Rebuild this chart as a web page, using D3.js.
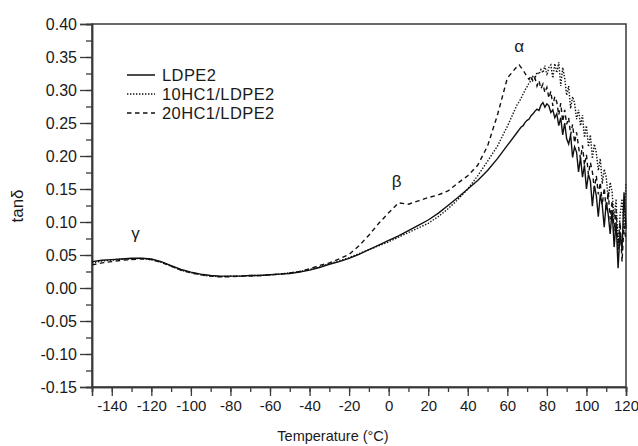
<!DOCTYPE html>
<html>
<head>
<meta charset="utf-8">
<script src="https://cdn.jsdelivr.net/npm/d3@7"></script>
<style>
    body { margin: 0; background: #fff; }
    text { font-family: "Liberation Sans", Arial, sans-serif; fill: #1a1a1a; }
</style>
</head>
<body>
<script>
// temperatures: every 5 deg up to 65, then every 1 deg where the curves get noisy
const temps = [-150, -145, -140, -135, -130, -125, -120, -115, -110, -105, -100, -95, -90, -85, -80, -75, -70, -65, -60, -55, -50, -45, -40, -35, -30, -25, -20, -15, -10, -5, 0, 5, 10, 15, 20, 25, 30, 35, 40, 45, 50, 55, 60, 65,
    66, 67, 68, 69, 70, 71, 72, 73, 74, 75, 76, 77, 78, 79, 80, 81, 82, 83, 84, 85, 86, 87, 88, 89, 90, 91, 92, 93, 94, 95, 96, 97, 98, 99, 100,
    101, 102, 103, 104, 105, 106, 107, 108, 109, 110, 111, 112, 113, 114, 115, 116, 117, 118, 119, 120]

const ldpe2 = [0.040, 0.042, 0.043, 0.044, 0.045, 0.045, 0.044, 0.040, 0.034, 0.028, 0.024, 0.021, 0.019, 0.018, 0.018, 0.018, 0.019, 0.019, 0.020, 0.021, 0.022, 0.024, 0.027, 0.031, 0.036, 0.040, 0.045, 0.051, 0.058, 0.065, 0.072, 0.079, 0.087, 0.095, 0.103, 0.113, 0.125, 0.137, 0.150, 0.163, 0.178, 0.196, 0.216, 0.236,
    0.240, 0.244, 0.246, 0.251, 0.254, 0.256, 0.261, 0.264, 0.268, 0.271, 0.269, 0.277, 0.281, 0.274, 0.279, 0.276, 0.266, 0.270, 0.258, 0.264, 0.246, 0.258, 0.232, 0.250, 0.226, 0.218, 0.232, 0.198, 0.214, 0.206, 0.176, 0.198, 0.168, 0.186, 0.150,
    0.172, 0.162, 0.124, 0.155, 0.140, 0.108, 0.142, 0.125, 0.092, 0.130, 0.112, 0.082, 0.118, 0.062, 0.100, 0.030, 0.085, 0.056, 0.145, 0.090, 0.200]

const hc10 = [0.038, 0.041, 0.042, 0.044, 0.044, 0.045, 0.043, 0.039, 0.033, 0.027, 0.023, 0.020, 0.018, 0.017, 0.018, 0.018, 0.019, 0.019, 0.020, 0.021, 0.023, 0.025, 0.028, 0.032, 0.037, 0.041, 0.046, 0.052, 0.058, 0.064, 0.070, 0.077, 0.084, 0.091, 0.098, 0.108, 0.120, 0.134, 0.150, 0.170, 0.192, 0.215, 0.245, 0.278,
    0.282, 0.288, 0.294, 0.300, 0.305, 0.311, 0.314, 0.322, 0.318, 0.327, 0.324, 0.331, 0.326, 0.337, 0.322, 0.334, 0.338, 0.318, 0.340, 0.326, 0.342, 0.306, 0.334, 0.318, 0.292, 0.306, 0.272, 0.290, 0.280, 0.256, 0.270, 0.246, 0.262, 0.228, 0.246,
    0.214, 0.232, 0.196, 0.218, 0.205, 0.178, 0.196, 0.158, 0.180, 0.168, 0.134, 0.160, 0.145, 0.105, 0.135, 0.060, 0.110, 0.135, 0.090, 0.160, 0.120]

const hc20 = [0.035, 0.038, 0.040, 0.042, 0.043, 0.044, 0.043, 0.039, 0.033, 0.027, 0.023, 0.020, 0.018, 0.017, 0.017, 0.018, 0.018, 0.019, 0.020, 0.021, 0.023, 0.025, 0.029, 0.034, 0.038, 0.044, 0.051, 0.064, 0.080, 0.098, 0.114, 0.129, 0.127, 0.132, 0.137, 0.141, 0.147, 0.159, 0.170, 0.186, 0.215, 0.262, 0.318, 0.336,
    0.338, 0.334, 0.330, 0.325, 0.320, 0.316, 0.322, 0.312, 0.318, 0.306, 0.314, 0.302, 0.309, 0.296, 0.304, 0.288, 0.298, 0.276, 0.290, 0.282, 0.262, 0.280, 0.252, 0.270, 0.248, 0.258, 0.232, 0.248, 0.220, 0.236, 0.214, 0.196, 0.216, 0.186, 0.202,
    0.172, 0.190, 0.176, 0.150, 0.170, 0.142, 0.160, 0.126, 0.152, 0.118, 0.146, 0.104, 0.132, 0.086, 0.118, 0.058, 0.100, 0.040, 0.095, 0.072, 0.112]

const seriesNames = ["LDPE2", "10HC1/LDPE2", "20HC1/LDPE2"]
const xTicks = [-140, -120, -100, -80, -60, -40, -20, 0, 20, 40, 60, 80, 100, 120]
const yTicks = [-0.15, -0.10, -0.05, 0.00, 0.05, 0.10, 0.15, 0.20, 0.25, 0.30, 0.35, 0.40]
const peaks = [["γ", -128, 0.074], ["β", 4, 0.153], ["α", 66, 0.357]]

const W = 638, H = 446
const mLeft = 92, mRight = 626, mTop = 24, mBottom = 387

const svg = d3.select("body").append("svg")
    .attr("width", W)
    .attr("height", H)

const x = d3.scaleLinear().domain([-150, 120]).range([mLeft, mRight])
const y = d3.scaleLinear().domain([-0.15, 0.40]).range([mBottom, mTop])

// frame
svg.append("rect")
    .attr("x", mLeft).attr("y", mTop)
    .attr("width", mRight - mLeft).attr("height", mBottom - mTop)
    .attr("fill", "none").attr("stroke", "#3a3a3a").attr("stroke-width", 1.5)

// minor ticks
svg.append("g")
    .attr("transform", "translate(0," + mBottom + ")")
    .call(d3.axisBottom(x).tickValues(d3.range(-150, 121, 10)).tickSize(5).tickFormat(""))
svg.append("g")
    .attr("transform", "translate(" + mLeft + ",0)")
    .call(d3.axisLeft(y).tickValues(d3.range(-0.15, 0.41, 0.025)).tickSize(6).tickFormat(""))

// major ticks + labels (plain hyphen for negatives, like the original)
svg.append("g")
    .attr("class", "xa")
    .attr("transform", "translate(0," + mBottom + ")")
    .call(d3.axisBottom(x).tickValues(xTicks).tickSize(9).tickPadding(4).tickFormat(d => String(d)))
svg.append("g")
    .attr("class", "ya")
    .attr("transform", "translate(" + mLeft + ",0)")
    .call(d3.axisLeft(y).tickValues(yTicks).tickSize(12).tickPadding(3).tickFormat(d => d.toFixed(2)))

svg.selectAll(".domain").attr("stroke", "#3a3a3a").attr("stroke-width", 1.5)
svg.selectAll(".tick line").attr("stroke", "#3a3a3a").attr("stroke-width", 1.3)
svg.selectAll(".tick text").attr("fill", "#1a1a1a")
    .style("font-family", "'Liberation Sans', Arial, sans-serif")
svg.selectAll(".xa .tick text").style("font-size", "15px")
svg.selectAll(".ya .tick text").style("font-size", "16px")

// axis titles
svg.append("text")
    .attr("x", 333).attr("y", 441)
    .attr("text-anchor", "middle").style("font-size", "14.5px")
    .text("Temperature (°C)")
svg.append("text")
    .attr("transform", "translate(23,206) rotate(-90)")
    .attr("text-anchor", "middle").style("font-size", "17px")
    .text("tanδ")

// curves
const styles = [null, "1.4,1.6", "4.5,3.5"]
const allSeries = [ldpe2, hc10, hc20]
const line = d3.line()
    .x(d => x(d[0]))
    .y(d => y(d[1]))

allSeries.forEach((vals, i) => {
    svg.append("path")
        .datum(temps.map((t, j) => [t, vals[j]]))
        .attr("d", line)
        .attr("fill", "none")
        .attr("stroke", "#111")
        .attr("stroke-width", 1.4)
        .attr("stroke-dasharray", styles[i])
})

// legend
const legend = svg.append("g").attr("transform", "translate(127,75)")
seriesNames.forEach((name, i) => {
    legend.append("line")
        .attr("x1", 0).attr("x2", 28)
        .attr("y1", i * 19).attr("y2", i * 19)
        .attr("stroke", "#111").attr("stroke-width", 1.5)
        .attr("stroke-dasharray", styles[i])
    legend.append("text")
        .attr("x", 35).attr("y", i * 19 + 6)
        .style("font-size", "16.5px")
        .style("letter-spacing", "0.4px")
        .text(name)
})

// peak labels
svg.selectAll(".peak")
    .data(peaks)
    .enter()
    .append("text")
    .attr("class", "peak")
    .attr("x", d => x(d[1]))
    .attr("y", d => y(d[2]))
    .attr("text-anchor", "middle")
    .style("font-size", "17px")
    .text(d => d[0])
</script>
</body>
</html>
